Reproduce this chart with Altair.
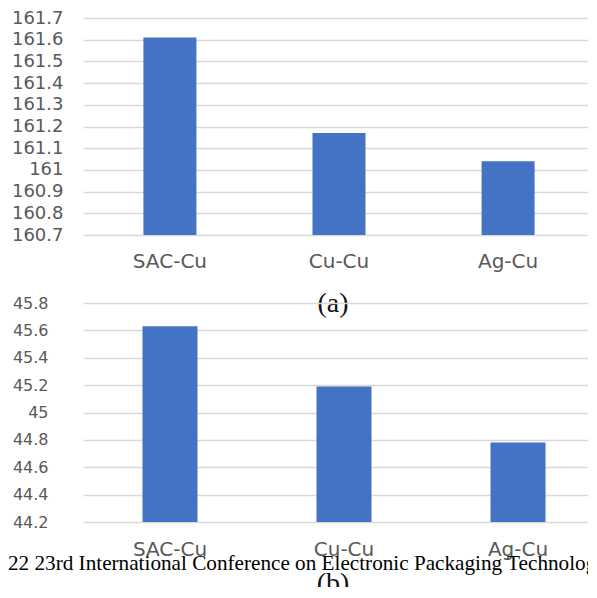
import altair as alt
import pandas as pd

categories = ["SAC-Cu", "Cu-Cu", "Ag-Cu"]
values_a = [161.61, 161.17, 161.04]
values_b = [45.63, 45.19, 44.78]
ticks_a = [160.7, 160.8, 160.9, 161.0, 161.1, 161.2, 161.3, 161.4, 161.5, 161.6, 161.7]
ticks_b = [44.2, 44.4, 44.6, 44.8, 45.0, 45.2, 45.4, 45.6, 45.8]
caption_a = ["(a)"]
caption_b = ["(b)"]
footer = ["22 23rd International Conference on Electronic Packaging Technology"]

BAR = "#4472C4"
GRAY = "#595959"
SANS = "DejaVu Sans"
SERIF = "Liberation Serif"


def panel(vals, ticks, w, h, po, bar_w, ylab_size, ylab_pad, xlab_pad):
    df = pd.DataFrame({"cat": categories, "v": vals})
    dom = [ticks[0], ticks[-1]]
    bars = alt.Chart(df).mark_bar(color=BAR, width=bar_w).encode(
        x=alt.X(
            "cat:N",
            sort=categories,
            scale=alt.Scale(paddingInner=0, paddingOuter=po),
            axis=alt.Axis(
                title=None, labelAngle=0, labelFont=SANS, labelFontSize=20,
                labelColor=GRAY, labelPadding=xlab_pad, ticks=False,
                domain=False, grid=False,
            ),
        ),
        y=alt.Y(
            "v:Q",
            scale=alt.Scale(domain=dom, zero=False, nice=False),
            axis=alt.Axis(
                title=None, values=ticks, format=".1~f", labelFont=SANS,
                labelFontSize=ylab_size, labelColor=GRAY, labelPadding=ylab_pad,
                ticks=False, domain=False, grid=True, gridColor="#d9d9d9",
                gridWidth=1.6,
            ),
        ),
        y2=alt.datum(dom[0]),
    )
    return bars.properties(width=w, height=h)


top_bars = panel(values_a, ticks_a, 512, 217, 0.014, 53, 18, 20, 16)
bottom_bars = panel(values_b, ticks_b, 522, 219, 0.0, 55, 16, 35, 17)

cap_a = alt.Chart(pd.DataFrame({"t": caption_a})).mark_text(
    font=SERIF, fontSize=28, align="center", baseline="alphabetic", color="#111111"
).encode(text="t:N", x=alt.value(250), y=alt.value(294))

cap_b = alt.Chart(pd.DataFrame({"t": caption_b})).mark_text(
    font=SERIF, fontSize=28, align="center", baseline="alphabetic", color="#111111"
).encode(text="t:N", x=alt.value(250), y=alt.value(289))

foot = alt.Chart(pd.DataFrame({"t": footer})).mark_text(
    font=SERIF, fontSize=21.2, align="left", baseline="alphabetic", color="#000000"
).encode(text="t:N", x=alt.value(-75), y=alt.value(267))

top = alt.layer(top_bars, cap_a).properties(width=512, height=217)
bottom = alt.layer(bottom_bars, foot, cap_b).properties(width=522, height=219)

chart = alt.vconcat(top, bottom, spacing=68, bounds="flush").properties(
    padding={"left": 0, "top": 1, "right": -20, "bottom": -11},
    background="white",
).configure_view(stroke=None)

chart.save("out.html", embed_options={"renderer": "svg", "actions": False})
